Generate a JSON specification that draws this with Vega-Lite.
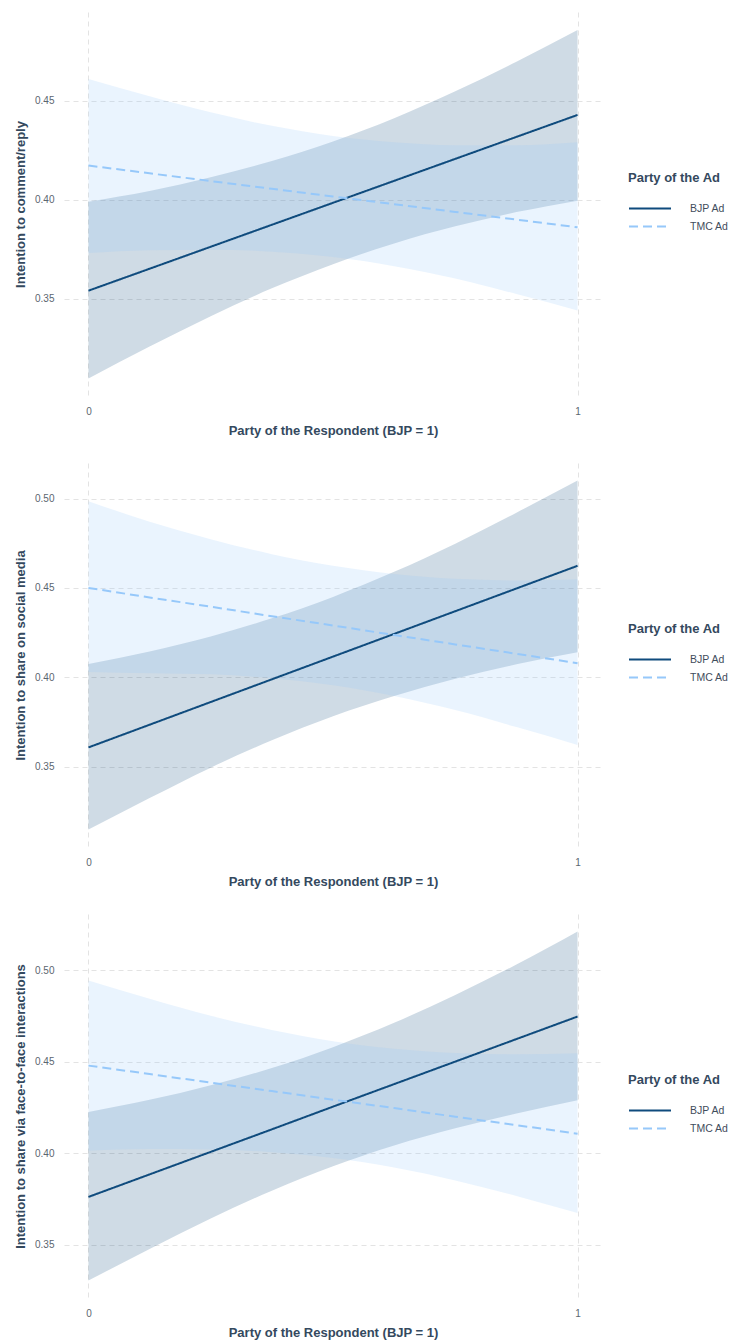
{
  "$schema": "https://vega.github.io/schema/vega-lite/v6.json",
  "padding": {"left": 14, "top": 12, "right": 3, "bottom": 2},
  "background": "white",
  "spacing": 26,
  "config": {
    "font": "Liberation Sans",
    "view": {"stroke": null},
    "axis": {
      "domain": false, "ticks": false, "tickSize": 0, "grid": true,
      "gridColor": "#e3e3e3", "gridDash": [5, 4], "gridWidth": 1,
      "labelColor": "#5b6670", "labelFontSize": 10, "labelPadding": 10,
      "titleColor": "#34495e", "titleFontSize": 13, "titleFontWeight": "bold"
    },
    "legend": {
      "titleColor": "#34495e", "titleFontSize": 13, "titleFontWeight": "bold",
      "labelColor": "#3f4d5c", "labelFontSize": 10.5,
      "symbolType": "M-1,0H3", "symbolSize": 441, "symbolStrokeWidth": 2,
      "labelOffset": 39, "rowPadding": 1, "titlePadding": 12
    }
  },
  "data": {"values": [
    {"outcome": "comment", "party": "BJP Ad", "x": 0, "fit": 0.3540, "lo": 0.3097, "hi": 0.3990},
    {"outcome": "comment", "party": "BJP Ad", "x": 0.125, "fit": 0.3651, "lo": 0.3258, "hi": 0.4044},
    {"outcome": "comment", "party": "BJP Ad", "x": 0.25, "fit": 0.3762, "lo": 0.3411, "hi": 0.4113},
    {"outcome": "comment", "party": "BJP Ad", "x": 0.375, "fit": 0.3873, "lo": 0.3552, "hi": 0.4195},
    {"outcome": "comment", "party": "BJP Ad", "x": 0.5, "fit": 0.3984, "lo": 0.3674, "hi": 0.4294},
    {"outcome": "comment", "party": "BJP Ad", "x": 0.625, "fit": 0.4095, "lo": 0.3779, "hi": 0.4411},
    {"outcome": "comment", "party": "BJP Ad", "x": 0.75, "fit": 0.4206, "lo": 0.3865, "hi": 0.4547},
    {"outcome": "comment", "party": "BJP Ad", "x": 0.875, "fit": 0.4317, "lo": 0.3937, "hi": 0.4697},
    {"outcome": "comment", "party": "BJP Ad", "x": 1, "fit": 0.4428, "lo": 0.3995, "hi": 0.4857},
    {"outcome": "comment", "party": "TMC Ad", "x": 0, "fit": 0.4172, "lo": 0.3730, "hi": 0.4610},
    {"outcome": "comment", "party": "TMC Ad", "x": 0.125, "fit": 0.4133, "lo": 0.3744, "hi": 0.4522},
    {"outcome": "comment", "party": "TMC Ad", "x": 0.25, "fit": 0.4094, "lo": 0.3747, "hi": 0.4441},
    {"outcome": "comment", "party": "TMC Ad", "x": 0.375, "fit": 0.4055, "lo": 0.3737, "hi": 0.4373},
    {"outcome": "comment", "party": "TMC Ad", "x": 0.5, "fit": 0.4016, "lo": 0.3710, "hi": 0.4322},
    {"outcome": "comment", "party": "TMC Ad", "x": 0.625, "fit": 0.3977, "lo": 0.3664, "hi": 0.4290},
    {"outcome": "comment", "party": "TMC Ad", "x": 0.75, "fit": 0.3938, "lo": 0.3601, "hi": 0.4275},
    {"outcome": "comment", "party": "TMC Ad", "x": 0.875, "fit": 0.3899, "lo": 0.3523, "hi": 0.4275},
    {"outcome": "comment", "party": "TMC Ad", "x": 1, "fit": 0.3860, "lo": 0.3440, "hi": 0.4290},
    {"outcome": "social", "party": "BJP Ad", "x": 0, "fit": 0.3608, "lo": 0.3149, "hi": 0.4075},
    {"outcome": "social", "party": "BJP Ad", "x": 0.125, "fit": 0.3735, "lo": 0.3325, "hi": 0.4145},
    {"outcome": "social", "party": "BJP Ad", "x": 0.25, "fit": 0.3862, "lo": 0.3495, "hi": 0.4229},
    {"outcome": "social", "party": "BJP Ad", "x": 0.375, "fit": 0.3989, "lo": 0.3648, "hi": 0.4330},
    {"outcome": "social", "party": "BJP Ad", "x": 0.5, "fit": 0.4116, "lo": 0.3783, "hi": 0.4450},
    {"outcome": "social", "party": "BJP Ad", "x": 0.625, "fit": 0.4243, "lo": 0.3896, "hi": 0.4590},
    {"outcome": "social", "party": "BJP Ad", "x": 0.75, "fit": 0.4370, "lo": 0.3992, "hi": 0.4748},
    {"outcome": "social", "party": "BJP Ad", "x": 0.875, "fit": 0.4497, "lo": 0.4073, "hi": 0.4921},
    {"outcome": "social", "party": "BJP Ad", "x": 1, "fit": 0.4624, "lo": 0.4140, "hi": 0.5101},
    {"outcome": "social", "party": "TMC Ad", "x": 0, "fit": 0.4500, "lo": 0.4030, "hi": 0.4985},
    {"outcome": "social", "party": "TMC Ad", "x": 0.125, "fit": 0.4447, "lo": 0.4023, "hi": 0.4871},
    {"outcome": "social", "party": "TMC Ad", "x": 0.25, "fit": 0.4395, "lo": 0.4017, "hi": 0.4773},
    {"outcome": "social", "party": "TMC Ad", "x": 0.375, "fit": 0.4342, "lo": 0.3995, "hi": 0.4689},
    {"outcome": "social", "party": "TMC Ad", "x": 0.5, "fit": 0.4290, "lo": 0.3956, "hi": 0.4624},
    {"outcome": "social", "party": "TMC Ad", "x": 0.625, "fit": 0.4237, "lo": 0.3896, "hi": 0.4578},
    {"outcome": "social", "party": "TMC Ad", "x": 0.75, "fit": 0.4184, "lo": 0.3817, "hi": 0.4551},
    {"outcome": "social", "party": "TMC Ad", "x": 0.875, "fit": 0.4132, "lo": 0.3722, "hi": 0.4542},
    {"outcome": "social", "party": "TMC Ad", "x": 1, "fit": 0.4079, "lo": 0.3622, "hi": 0.4549},
    {"outcome": "face", "party": "BJP Ad", "x": 0, "fit": 0.3761, "lo": 0.3304, "hi": 0.4225},
    {"outcome": "face", "party": "BJP Ad", "x": 0.125, "fit": 0.3884, "lo": 0.3477, "hi": 0.4291},
    {"outcome": "face", "party": "BJP Ad", "x": 0.25, "fit": 0.4007, "lo": 0.3643, "hi": 0.4371},
    {"outcome": "face", "party": "BJP Ad", "x": 0.375, "fit": 0.4130, "lo": 0.3795, "hi": 0.4465},
    {"outcome": "face", "party": "BJP Ad", "x": 0.5, "fit": 0.4254, "lo": 0.3929, "hi": 0.4579},
    {"outcome": "face", "party": "BJP Ad", "x": 0.625, "fit": 0.4377, "lo": 0.4042, "hi": 0.4712},
    {"outcome": "face", "party": "BJP Ad", "x": 0.75, "fit": 0.4500, "lo": 0.4136, "hi": 0.4864},
    {"outcome": "face", "party": "BJP Ad", "x": 0.875, "fit": 0.4623, "lo": 0.4216, "hi": 0.5030},
    {"outcome": "face", "party": "BJP Ad", "x": 1, "fit": 0.4746, "lo": 0.4289, "hi": 0.5211},
    {"outcome": "face", "party": "TMC Ad", "x": 0, "fit": 0.4478, "lo": 0.4013, "hi": 0.4943},
    {"outcome": "face", "party": "TMC Ad", "x": 0.125, "fit": 0.4432, "lo": 0.4022, "hi": 0.4843},
    {"outcome": "face", "party": "TMC Ad", "x": 0.25, "fit": 0.4385, "lo": 0.4020, "hi": 0.4750},
    {"outcome": "face", "party": "TMC Ad", "x": 0.375, "fit": 0.4339, "lo": 0.4005, "hi": 0.4673},
    {"outcome": "face", "party": "TMC Ad", "x": 0.5, "fit": 0.4292, "lo": 0.3973, "hi": 0.4611},
    {"outcome": "face", "party": "TMC Ad", "x": 0.625, "fit": 0.4246, "lo": 0.3922, "hi": 0.4570},
    {"outcome": "face", "party": "TMC Ad", "x": 0.75, "fit": 0.4199, "lo": 0.3851, "hi": 0.4547},
    {"outcome": "face", "party": "TMC Ad", "x": 0.875, "fit": 0.4153, "lo": 0.3766, "hi": 0.4540},
    {"outcome": "face", "party": "TMC Ad", "x": 1, "fit": 0.4106, "lo": 0.3673, "hi": 0.4546}
  ]},
  "resolve": {
    "scale": {"y": "independent", "color": "independent", "strokeDash": "independent"},
    "legend": {"color": "independent", "strokeDash": "independent"}
  },
  "vconcat": [
    {
      "width": 538, "height": 384,
      "transform": [{"filter": "datum.outcome === 'comment'"}],
      "encoding": {
        "x": {"field": "x", "type": "quantitative", "title": "Party of the Respondent (BJP = 1)",
              "scale": {"domain": [-0.05, 1.05], "nice": false, "zero": false},
              "axis": {"values": [0, 1], "format": "d", "titlePadding": 8}}
      },
      "layer": [
        {"transform": [{"filter": "datum.party === 'BJP Ad'"}],
         "mark": {"type": "area", "color": "#0f4b7d", "opacity": 0.2, "interpolate": "monotone"},
         "encoding": {
           "y": {"field": "hi", "type": "quantitative", "title": "Intention to comment/reply",
                 "scale": {"domain": [0.3008, 0.4948], "nice": false, "zero": false},
                 "axis": {"values": [0.35, 0.40, 0.45], "format": ".2f", "titlePadding": 7}},
           "y2": {"field": "lo"}}},
        {"transform": [{"filter": "datum.party === 'TMC Ad'"}],
         "mark": {"type": "area", "color": "#96c8fa", "opacity": 0.2, "interpolate": "monotone"},
         "encoding": {
           "y": {"field": "hi", "type": "quantitative", "title": "Intention to comment/reply"},
           "y2": {"field": "lo"}}},
        {"mark": {"type": "line", "strokeWidth": 2},
         "encoding": {
           "y": {"field": "fit", "type": "quantitative", "title": "Intention to comment/reply"},
           "color": {"field": "party", "type": "nominal", "title": "Party of the Ad",
                     "scale": {"domain": ["BJP Ad", "TMC Ad"], "range": ["#0f4b7d", "#96c8fa"]},
                     "legend": {"orient": "none", "legendX": 564, "legendY": 160}},
           "strokeDash": {"field": "party", "type": "nominal", "title": "Party of the Ad",
                          "scale": {"domain": ["BJP Ad", "TMC Ad"], "range": [[1, 0], [9, 5]]},
                          "legend": {"orient": "none", "legendX": 564, "legendY": 160}}}}
      ]
    },
    {
      "width": 538, "height": 384,
      "transform": [{"filter": "datum.outcome === 'social'"}],
      "encoding": {
        "x": {"field": "x", "type": "quantitative", "title": "Party of the Respondent (BJP = 1)",
              "scale": {"domain": [-0.05, 1.05], "nice": false, "zero": false},
              "axis": {"values": [0, 1], "format": "d", "titlePadding": 8}}
      },
      "layer": [
        {"transform": [{"filter": "datum.party === 'BJP Ad'"}],
         "mark": {"type": "area", "color": "#0f4b7d", "opacity": 0.2, "interpolate": "monotone"},
         "encoding": {
           "y": {"field": "hi", "type": "quantitative", "title": "Intention to share on social media",
                 "scale": {"domain": [0.3051, 0.5199], "nice": false, "zero": false},
                 "axis": {"values": [0.35, 0.40, 0.45, 0.50], "format": ".2f", "titlePadding": 7}},
           "y2": {"field": "lo"}}},
        {"transform": [{"filter": "datum.party === 'TMC Ad'"}],
         "mark": {"type": "area", "color": "#96c8fa", "opacity": 0.2, "interpolate": "monotone"},
         "encoding": {
           "y": {"field": "hi", "type": "quantitative", "title": "Intention to share on social media"},
           "y2": {"field": "lo"}}},
        {"mark": {"type": "line", "strokeWidth": 2},
         "encoding": {
           "y": {"field": "fit", "type": "quantitative", "title": "Intention to share on social media"},
           "color": {"field": "party", "type": "nominal", "title": "Party of the Ad",
                     "scale": {"domain": ["BJP Ad", "TMC Ad"], "range": ["#0f4b7d", "#96c8fa"]},
                     "legend": {"orient": "none", "legendX": 564, "legendY": 160}},
           "strokeDash": {"field": "party", "type": "nominal", "title": "Party of the Ad",
                          "scale": {"domain": ["BJP Ad", "TMC Ad"], "range": [[1, 0], [9, 5]]},
                          "legend": {"orient": "none", "legendX": 564, "legendY": 160}}}}
      ]
    },
    {
      "width": 538, "height": 384,
      "transform": [{"filter": "datum.outcome === 'face'"}],
      "encoding": {
        "x": {"field": "x", "type": "quantitative", "title": "Party of the Respondent (BJP = 1)",
              "scale": {"domain": [-0.05, 1.05], "nice": false, "zero": false},
              "axis": {"values": [0, 1], "format": "d", "titlePadding": 8}}
      },
      "layer": [
        {"transform": [{"filter": "datum.party === 'BJP Ad'"}],
         "mark": {"type": "area", "color": "#0f4b7d", "opacity": 0.2, "interpolate": "monotone"},
         "encoding": {
           "y": {"field": "hi", "type": "quantitative", "title": "Intention to share via face-to-face interactions",
                 "scale": {"domain": [0.3209, 0.5306], "nice": false, "zero": false},
                 "axis": {"values": [0.35, 0.40, 0.45, 0.50], "format": ".2f", "titlePadding": 7}},
           "y2": {"field": "lo"}}},
        {"transform": [{"filter": "datum.party === 'TMC Ad'"}],
         "mark": {"type": "area", "color": "#96c8fa", "opacity": 0.2, "interpolate": "monotone"},
         "encoding": {
           "y": {"field": "hi", "type": "quantitative", "title": "Intention to share via face-to-face interactions"},
           "y2": {"field": "lo"}}},
        {"mark": {"type": "line", "strokeWidth": 2},
         "encoding": {
           "y": {"field": "fit", "type": "quantitative", "title": "Intention to share via face-to-face interactions"},
           "color": {"field": "party", "type": "nominal", "title": "Party of the Ad",
                     "scale": {"domain": ["BJP Ad", "TMC Ad"], "range": ["#0f4b7d", "#96c8fa"]},
                     "legend": {"orient": "none", "legendX": 564, "legendY": 160}},
           "strokeDash": {"field": "party", "type": "nominal", "title": "Party of the Ad",
                          "scale": {"domain": ["BJP Ad", "TMC Ad"], "range": [[1, 0], [9, 5]]},
                          "legend": {"orient": "none", "legendX": 564, "legendY": 160}}}}
      ]
    }
  ]
}
